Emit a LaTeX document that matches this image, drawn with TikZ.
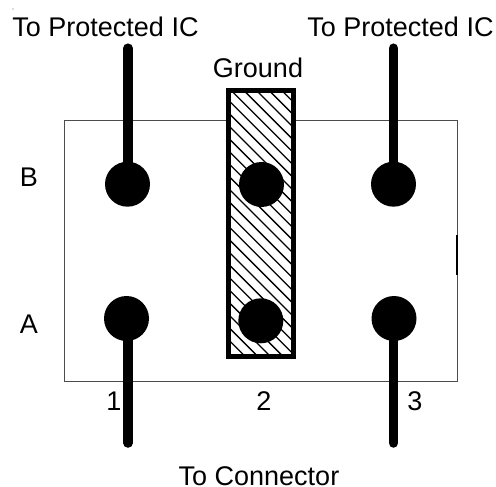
\documentclass[tikz,border=0pt]{standalone}
\usepackage{fontspec}
\setmainfont{Liberation Sans}
\tikzset{
  x=1pt,y=-1pt,
  pad/.style={circle,fill=black,draw=none,minimum size=45pt,inner sep=0pt},
  pin/.style={line width=9.5pt,line cap=round},
  lab/.style={inner sep=0pt,font=\fontsize{27}{29}\selectfont,text=black},
}
\begin{document}
\begin{tikzpicture}
\useasboundingbox (0,0) rectangle (496,487);
\fill[white] (0,0) rectangle (496,487);
\fill[black!60] (13,9) circle (0.6);
\draw[line width=1pt,black!70] (64,121) rectangle (457,381);
\draw[line width=2pt] (457,235) -- (457,275);
% ground strip
\fill[white] (228.4,90.8) rectangle (293,356.6);
\begin{scope}
\clip (228.4,90.8) rectangle (293,356.6);
\foreach \i in {0,...,28}{
  \draw[line width=1.3pt] (-136.4+12.6*\i,0) -- ++(400,400);
}
\end{scope}
\draw[line width=5pt] (228.4,90.8) rectangle (293,356.6);
\node[pad] (b1) at (127.5,184.2) {};
\node[pad] (b2) at (261.5,184.5) {};
\node[pad] (b3) at (393.5,184.2) {};
\node[pad] (a1) at (126.5,318.5) {};
\node[pad] (a2) at (260.8,320.8) {};
\node[pad] (a3) at (394,318.5) {};
\coordinate (t1) at (128,48.2);
\coordinate (t3) at (393.5,48.2);
\coordinate (e1) at (128,443);
\coordinate (e3) at (393.5,443);
\draw[pin] (t1) -- (t1 |- b1.center);
\draw[pin] (t3) -- (t3 |- b3.center);
\draw[pin] (e1 |- a1.center) -- (e1);
\draw[pin] (e3 |- a3.center) -- (e3);
\node[lab] (lt1) at (105.5,27) {To Protected IC};
\node[lab] (lt3) at (400.5,27) {To Protected IC};
\node[lab] (lg) at (258,68) {Ground};
\node[lab] (lb) at (29,177) {B};
\node[lab] (la) at (29,324) {A};
\node[lab] (n1) at (114,401) {1};
\node[lab] (n2) at (264,401) {2};
\node[lab] (n3) at (415,401) {3};
\node[lab] (lc) at (259,476) {To Connector};
\end{tikzpicture}
\end{document}
